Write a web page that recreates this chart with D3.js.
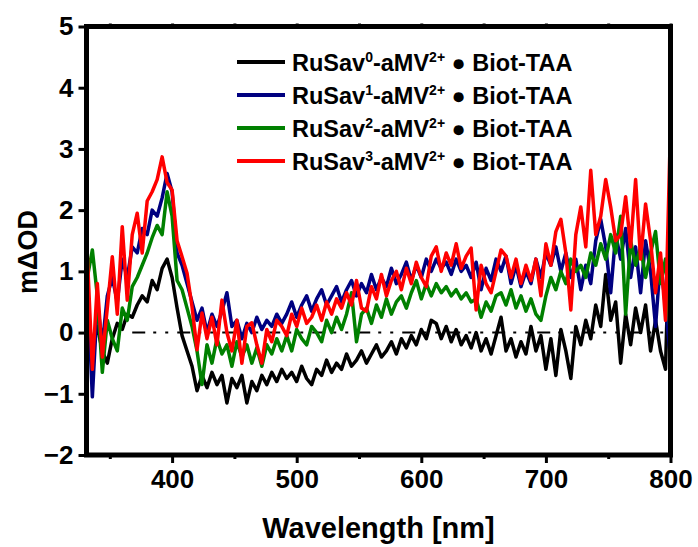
<!DOCTYPE html>
<html>
<head>
<meta charset="utf-8">
<script src="https://cdn.jsdelivr.net/npm/d3@7/dist/d3.min.js"></script>
<style>
  body { margin: 0; background: #fff; }
  text { font-family: Arial, "Liberation Sans", sans-serif; font-weight: bold; }
</style>
</head>
<body>
<svg id="chart" width="698" height="547"></svg>
<script>
// wavelength grid (nm), every 4 nm
var wavelength = d3.range(332, 801, 4);

// mΔOD
var sav0 = [0.3, -0.2, 0.1, -0.3, -0.5, -0.1, 0.15, 0.05, 0.3, 0.25,
  0.45, 0.6, 0.5, 0.85, 0.7, 1.05, 1.2, 0.9, 0.4, -0.05,
  -0.3, -0.55, -0.95, -0.7, -0.9, -0.65, -0.85, -0.7, -1.15, -0.75,
  -0.9, -0.7, -1.15, -0.8, -0.95, -0.7, -0.85, -0.65, -0.8, -0.6,
  -0.75, -0.65, -0.8, -0.55, -0.75, -0.85, -0.6, -0.7, -0.45, -0.65,
  -0.5, -0.6, -0.35, -0.55, -0.45, -0.3, -0.5, -0.35, -0.2, -0.4,
  -0.3, -0.15, -0.35, -0.1, -0.25, -0.05, -0.2, 0.05, -0.1, 0.2,
  0.15, -0.1, 0.1, -0.15, 0.05, -0.2, -0.05, -0.25, 0.0, -0.3,
  -0.1, -0.35, -0.05, 0.25, -0.3, -0.1, -0.4, -0.15, -0.35, 0.1,
  -0.3, -0.05, -0.6, -0.1, -0.7, 0.05, -0.3, -0.75, 0.1, -0.2,
  0.2, -0.1, 0.45, 0.1, 0.95, 0.2, 0.5, -0.5, 0.3, -0.2,
  0.4, 0.0, 0.45, -0.3, 0.2, -0.3, -0.6, 2.4];

var sav1 = [0.8, -1.05, 0.5, -0.2, 0.6, 0.9, 0.5, 1.2, 0.9, 1.4,
  1.3, 1.7, 1.6, 2.0, 1.9, 2.2, 2.6, 2.3, 1.3, 1.1,
  0.8, 0.5, 0.2, 0.4, 0.0, 0.3, 0.1, 0.35, 0.65, 0.1,
  0.2, -0.1, 0.15, 0.0, 0.25, 0.05, 0.2, 0.1, 0.3, 0.15,
  0.3, 0.5, 0.25, 0.45, 0.6, 0.35, 0.55, 0.7, 0.45, 0.6,
  0.75, 0.5, 0.7, 0.85, 0.6, 0.8, 0.65, 0.95, 0.7, 0.9,
  0.75, 1.05, 0.8, 0.95, 1.15, 0.85, 1.1, 0.9, 1.2, 1.0,
  1.2, 1.05, 1.15, 0.95, 1.2, 1.0, 1.1, 0.9, 1.15, 0.7,
  1.05, 0.85, 1.2, 1.0, 1.25, 0.8, 1.1, 0.75, 1.0, 0.8,
  1.2, 0.9, 1.3, 1.1, 1.4, 1.0, 1.3, 0.9, 1.2, 0.7,
  1.1, 0.8, 1.5, 1.85, 1.4, 0.65, 1.6, 1.2, 1.7, 0.9,
  1.4, 0.65, 1.5, 1.0, 0.1, 1.2, 0.4, -0.4];

var sav2 = [0.9, 1.35, 0.6, -0.65, 0.2, -0.1, -0.3, 0.4, 0.2, 0.75,
  0.9, 1.1, 1.3, 1.55, 1.75, 1.6, 2.3, 1.9, 0.85, 0.7,
  0.4, 0.1, -0.3, -0.85, -0.2, -0.5, -0.1, -0.35, -0.2, -0.55,
  -0.15, -0.4, -0.2, -0.5, -0.25, -0.55, -0.2, -0.35, -0.1, -0.3,
  -0.05, -0.3, 0.05, -0.1, -0.2, 0.1, 0.0, -0.15, 0.2, 0.0,
  0.25, 0.05, 0.3, 0.65, -0.15, 0.3, 0.4, 0.15, 0.45, 0.25,
  0.55, 0.3, 0.5, 0.6, 0.4, 0.65, 0.85, 0.55, 0.8, 0.6,
  0.8, 0.65, 0.75, 0.6, 0.7, 0.55, 0.65, 0.5, 0.55, 0.25,
  0.5, 0.35, 0.6, 0.65, 0.45, 0.7, 0.4, 0.6, 0.35, 0.55,
  0.3, 0.2, 0.6, 0.9, 0.7, 1.0, 0.8, 1.2, 1.0, 1.1,
  0.9, 1.3, 1.1, 1.45, 1.2, 1.6, 1.3, 1.9, 0.3, 1.5,
  1.1, 1.4, 0.9, 1.3, 1.65, 0.8, 1.2, -0.1];

var sav3 = [1.25, -0.6, 0.8, -0.4, 0.4, 1.24, 0.3, 1.73, 0.53, 1.6,
  1.95, 1.3, 2.15, 2.3, 2.5, 2.87, 2.45, 2.33, 1.5, 1.24,
  0.97, 0.42, -0.28, 0.32, -0.1, 0.25, -0.2, 0.53, 0.0, -0.3,
  0.2, -0.5, 0.1, 0.16, -0.2, -0.5, 0.05, -0.15, 0.2, 0.1,
  -0.05, 0.3, 0.1, 0.4, 0.15, 0.25, 0.45, 0.2, 0.5, 0.3,
  0.55, 0.4, 0.65, 0.45, 0.85, 0.4, 0.35, 0.75, 0.55, 0.95,
  0.6, 0.85, 1.0, 0.7, 1.05, 0.8, 1.15, 0.9, 0.75, 1.25,
  1.4, 1.0, 1.3, 1.1, 1.45, 1.05, 1.25, 1.38, 0.37, 1.1,
  0.8, 0.65, 1.0, 1.35, 1.25, 0.9, 1.2, 0.8, 1.1, 0.85,
  1.2, 0.6, 1.45, 1.1, 1.65, 1.85, 1.3, 0.37, 1.6, 2.05,
  1.4, 2.65, 1.6, 1.9, 2.5, 2.05, 1.5, 1.6, 2.22, 1.4,
  2.5, 1.2, 2.1, 1.5, 0.65, 1.3, 0.2, 3.37];

var seriesNames = ["0", "1", "2", "3"];
var seriesColors = ["#000000", "#000080", "#008000", "#ff0000"];
var xTicks = [400, 500, 600, 700, 800];
var xMinor = [350, 450, 550, 650, 750];
var yTicks = [-2, -1, 0, 1, 2, 3, 4, 5];

var svg = d3.select("#chart"),
  margin = { top: 26.5, right: 27.5, bottom: 92, left: 86.5 },
  width = 698 - margin.left - margin.right,
  height = 547 - margin.top - margin.bottom,
  g = svg.append("g").attr("transform", "translate(" + margin.left + "," + margin.top + ")");

var x = d3.scaleLinear().domain([331.3, 800]).range([0, width]);
var y = d3.scaleLinear().domain([-2, 5]).range([height, 0]);

g.append("clipPath").attr("id", "clip")
  .append("rect").attr("width", width).attr("height", height);

// zero reference line
g.append("line")
  .attr("x1", x(368)).attr("x2", x(800))
  .attr("y1", y(0)).attr("y2", y(0))
  .attr("stroke", "#000").attr("stroke-width", 2)
  .attr("stroke-dasharray", "13,8,3,9,3,9");

var allSeries = [sav0, sav1, sav2, sav3];
var line = d3.line()
  .x(function (d, i) { return x(wavelength[i]); })
  .y(function (d) { return y(d); });

g.append("g").attr("clip-path", "url(#clip)")
  .selectAll("path")
  .data(allSeries)
  .enter().append("path")
  .attr("d", line)
  .attr("fill", "none")
  .attr("stroke", function (d, i) { return seriesColors[i]; })
  .attr("stroke-width", 3.5)
  .attr("stroke-linejoin", "round");

// axes
g.append("g").attr("transform", "translate(0," + height + ")")
  .call(d3.axisBottom(x).tickValues(xTicks).tickSize(8).tickPadding(7).tickFormat(d3.format("d")));
g.append("g").attr("transform", "translate(0," + height + ")")
  .call(d3.axisBottom(x).tickValues(xMinor).tickSize(4).tickFormat(""));
g.append("g")
  .call(d3.axisTop(x).tickValues(xMinor.concat(xTicks)).tickSize(3).tickFormat(""));
g.append("g")
  .call(d3.axisLeft(y).tickValues(yTicks).tickSize(8).tickPadding(5).tickFormat(d3.format("d")));

svg.selectAll(".domain").remove();
svg.selectAll(".tick line").attr("stroke", "#000").attr("stroke-width", 3);
svg.selectAll(".tick text").attr("fill", "#000").style("font-size", "26px");

g.append("rect")
  .attr("width", width).attr("height", height)
  .attr("fill", "none").attr("stroke", "#000").attr("stroke-width", 5);

// axis titles
svg.append("text")
  .attr("x", margin.left + width / 2).attr("y", 538)
  .attr("text-anchor", "middle").style("font-size", "29px")
  .text("Wavelength [nm]");

svg.append("text")
  .attr("transform", "translate(37,252) rotate(-90)")
  .attr("text-anchor", "middle").style("font-size", "27px")
  .text("mΔOD");

// legend
var legend = svg.append("g");
var rowY = [62, 95, 128, 161];
seriesNames.forEach(function (n, i) {
  legend.append("line")
    .attr("x1", 237).attr("x2", 285)
    .attr("y1", rowY[i]).attr("y2", rowY[i])
    .attr("stroke", seriesColors[i]).attr("stroke-width", 4);
  var t = legend.append("text")
    .attr("x", 292).attr("y", rowY[i] + 9)
    .style("font-size", "23.5px");
  t.append("tspan").text("RuSav");
  t.append("tspan").attr("dy", -9).style("font-size", "14px").text(n);
  t.append("tspan").attr("dy", 9).text("-aMV");
  t.append("tspan").attr("dy", -9).style("font-size", "14px").text("2+");
  t.append("tspan").attr("dy", 9).text(" \u25CF Biot-TAA");
});
</script>
</body>
</html>
